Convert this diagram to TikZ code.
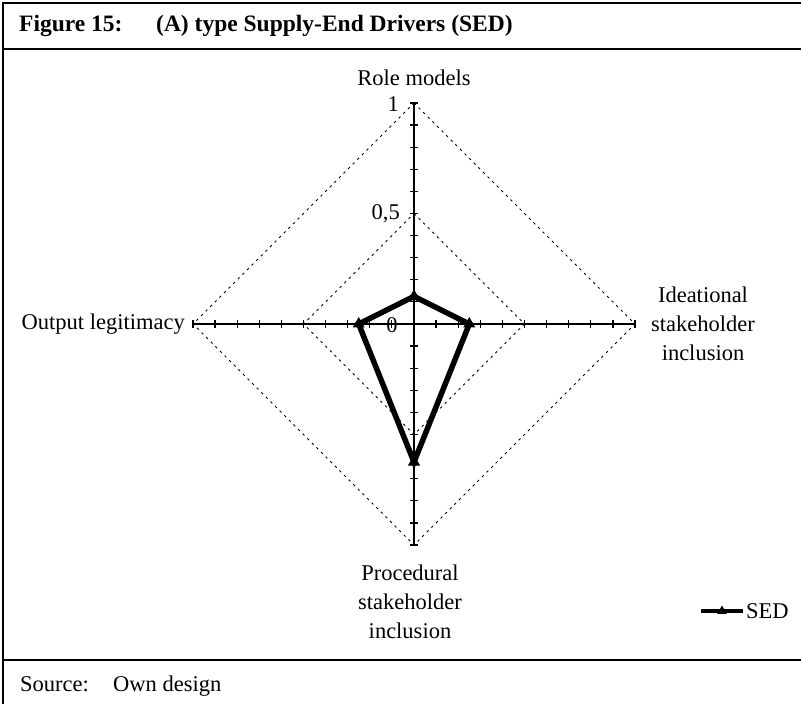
\documentclass[tikz,border=0pt]{standalone}
\usepackage{fontspec}
\setmainfont{Liberation Serif}
\usetikzlibrary{arrows}
\usetikzlibrary{shapes.geometric,math}

\tikzset{
  frameline/.style={line width=2.5pt},
  axisline/.style={line width=1.2pt},
  gridline/.style={line width=0.8pt, dash pattern=on 2.5pt off 4pt},
  sedline/.style={line width=5.5pt, line join=miter},
  sedmark/.style={regular polygon, regular polygon sides=3, fill=black, inner sep=0pt, minimum size=14pt},
  lbl/.style={inner sep=0pt, align=center}
}

\begin{document}
\begin{tikzpicture}[x=1pt, y=1pt, font=\fontsize{22.5}{29}\selectfont]
        \useasboundingbox (-414,-380) rectangle (387,324);

        % frame of the figure
        \draw[frameline] (-411,-380) -- (-411,321) -- (387,321);
        \draw[frameline] (-411,275) -- (387,275);
        \draw[frameline] (-411,-336) -- (387,-336);
        \node[anchor=base west, inner sep=0pt, font=\fontsize{23.5}{28}\selectfont\bfseries] (fignum) at (-395,292) {Figure 15:};
        \node[anchor=base west, inner sep=0pt, font=\fontsize{23.5}{28}\selectfont\bfseries] (figtitle) at (-258,292) {(A) type Supply-End Drivers (SED)};
        \node[anchor=base west, inner sep=0pt] (src) at (-394,-367) {Source:};
        \node[anchor=base west, inner sep=0pt] (srctext) at (-301,-367) {Own design};

        % axes
        \coordinate (top) at (0,221);
        \coordinate (bot) at (0,-221);
        \coordinate (lft) at (-221,0);
        \coordinate (rgt) at (221,0);
        \draw[gridline] (top) -- (rgt) -- (bot) -- (lft) -- cycle;
        \draw[gridline] (0,110.5) -- (110.5,0) -- (0,-110.5) -- (-110.5,0) -- cycle;
        \draw[axisline] (lft) -- (rgt);
        \draw[axisline] (bot) -- (top);
        \foreach \i in {1,...,10} {
          \draw[axisline] (\i*22.1,-4) -- (\i*22.1,4);
          \draw[axisline] (-\i*22.1,-4) -- (-\i*22.1,4);
          \draw[axisline] (-4,\i*22.1) -- (4,\i*22.1);
          \draw[axisline] (-4,-\i*22.1) -- (4,-\i*22.1);
        }
        \node[lbl, anchor=east] (one) at (-15,220) {1};
        \node[lbl, anchor=east] (half) at (-14,110) {0,5};
        \node[lbl] (zero) at (-22,-1) {0};

        % axis labels
        \node[lbl, anchor=base] (rolemod) at (0,238) {Role models};
        \node[lbl] (ideational) at (289,0) {Ideational\\stakeholder\\inclusion};
        \node[lbl] (procedural) at (-4,-278) {Procedural\\stakeholder\\inclusion};
        \node[lbl, anchor=east] (output) at (-229,0) {Output legitimacy};

        % SED values
        \coordinate (v1) at (0,27.6);
        \coordinate (v2) at (55.3,0);
        \coordinate (v3) at (0,-138);
        \coordinate (v4) at (-55.3,0);
        \draw[sedline] (v1) -- (v2) -- (v3) -- (v4) -- cycle;
        \foreach \p in {v1,v2,v3,v4}
          \node[sedmark] at (\p) {};

        % legend
        \coordinate (lga) at (287,-287);
        \coordinate (lgb) at (329,-287);
        \draw[line width=4.5pt] (lga) -- (lgb);
        \node[sedmark, minimum size=11pt] (lgm) at (308,-287) {};
        \node[lbl, anchor=west] (lgtext) at (332,-287) {SED};
\end{tikzpicture}
\end{document}
